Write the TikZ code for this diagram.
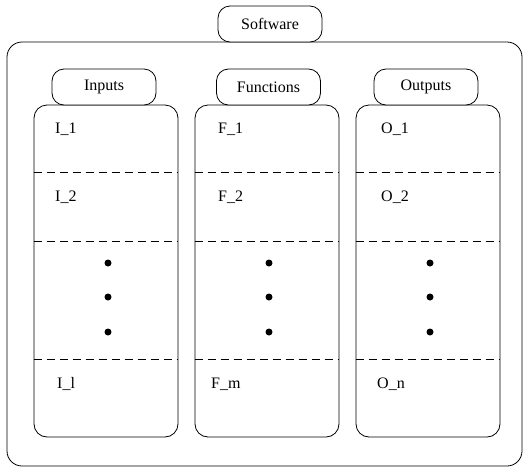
\documentclass[tikz,border=0pt]{standalone}
\usepackage{fontspec}
\setmainfont{Liberation Serif}
\begin{document}
\begin{tikzpicture}[x=1pt,y=-1pt,
  lbl/.style={font=\fontsize{16}{18}\selectfont},
  pill/.style={draw,thick,fill=white,rounded corners=12pt,minimum width=104pt,minimum height=36pt,inner sep=0pt,lbl},
  column/.style={draw,thick,fill=white,rounded corners=13pt,minimum width=144pt,minimum height=332pt,inner sep=0pt},
  sep/.style={thick,dashed,dash pattern=on 8pt off 5pt},
  item/.style={lbl,anchor=west,inner sep=0pt},
  dot/.style={fill,circle,inner sep=0pt,minimum size=7pt}]
\useasboundingbox (0,0) rectangle (528,467);

% enclosing software block and its title
\node[draw,thick,rounded corners=15pt,minimum width=515pt,minimum height=424pt] (sw) at (264.5,254) {};
\node[pill] (swt) at (270,24) {Software};

% the three columns
\node[column] (ci) at (106,271) {};
\node[column] (cf) at (267,271) {};
\node[column] (co) at (428,271) {};

% column headers
\node[pill] (hi) at (104,87) {Inputs};
\node[pill] (hf) at (268.5,87) {Functions};
\node[pill] (ho) at (426,87) {Outputs};

% row separators
\foreach \c in {ci,cf,co}{
  \foreach \y in {172,241,359}{
    \coordinate (\c l\y) at (\c.west |- 0,\y);
    \coordinate (\c r\y) at (\c.east |- 0,\y);
    \draw[sep] (\c l\y) -- (\c r\y);
  }
  \foreach \y [count=\k] in {263,297,332}
    \node[dot] (\c d\k) at ([xshift=2pt]\c.center |- 0,\y) {};
}

% entries
\node[item] (i1) at (55,129) {I\_1};
\node[item] (i2) at (55,197) {I\_2};
\node[item] (il) at (57,384) {I\_l};
\node[item] (f1) at (218,129) {F\_1};
\node[item] (f2) at (218,197) {F\_2};
\node[item] (fm) at (211,384) {F\_m};
\node[item] (o1) at (381,129) {O\_1};
\node[item] (o2) at (381,197) {O\_2};
\node[item] (on) at (377,384) {O\_n};
\end{tikzpicture}
\end{document}
